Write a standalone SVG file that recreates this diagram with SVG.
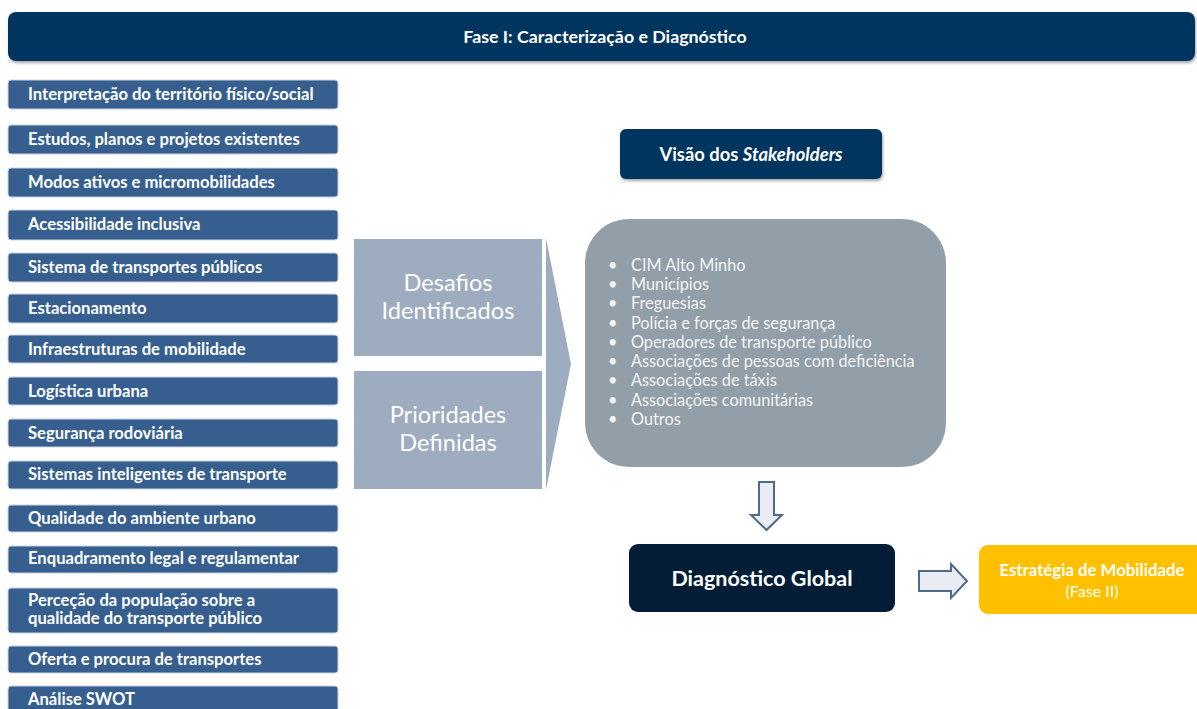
<svg xmlns="http://www.w3.org/2000/svg" width="1197" height="709" viewBox="0 0 1197 709">
<defs>
<filter id="sh" x="-5%" y="-20%" width="110%" height="150%">
<feDropShadow dx="1" dy="2" stdDeviation="1.5" flood-color="#000" flood-opacity="0.35"/>
</filter>
<style>
.lb{fill:#365f90;stroke:#c9d3df;stroke-width:1}
.lt{font-family:Lato,"Liberation Sans",sans-serif;font-weight:bold;font-size:16.6px;fill:#fff}
.mid{fill:#9dacbe}
.mt{font-family:Lato,"Liberation Sans",sans-serif;font-size:23.6px;fill:#fff;text-anchor:middle}
.bt{font-family:Lato,"Liberation Sans",sans-serif;font-size:16.3px;fill:#f4f4f4}
.ar{fill:#e9edf3;stroke:#4f6b86;stroke-width:2;stroke-linejoin:miter}
</style>
</defs>
<rect width="1197" height="709" fill="#fff"/>
<g id="title">
<rect x="8" y="12" width="1187" height="49" rx="8" fill="#003660" filter="url(#sh)"/>
<text x="605" y="43" text-anchor="middle" font-family="Lato,'Liberation Sans',sans-serif" font-weight="bold" font-size="17.8" fill="#fff">Fase I: Caracterização e Diagnóstico</text>
</g>
<g id="n1"><rect class="lb" x="8" y="80" width="330" height="29" rx="3"/><text class="lt" x="28" y="100">Interpretação do território físico/social</text></g>
<g id="n2"><rect class="lb" x="8" y="125" width="330" height="29" rx="3"/><text class="lt" x="28" y="145">Estudos, planos e projetos existentes</text></g>
<g id="n3"><rect class="lb" x="8" y="168" width="330" height="29" rx="3"/><text class="lt" x="28" y="188">Modos ativos e micromobilidades</text></g>
<g id="n4"><rect class="lb" x="8" y="210" width="330" height="30" rx="3"/><text class="lt" x="28" y="230">Acessibilidade inclusiva</text></g>
<g id="n5"><rect class="lb" x="8" y="253" width="330" height="29" rx="3"/><text class="lt" x="28" y="273">Sistema de transportes públicos</text></g>
<g id="n6"><rect class="lb" x="8" y="294" width="330" height="29" rx="3"/><text class="lt" x="28" y="314">Estacionamento</text></g>
<g id="n7"><rect class="lb" x="8" y="335" width="330" height="28" rx="3"/><text class="lt" x="28" y="355">Infraestruturas de mobilidade</text></g>
<g id="n8"><rect class="lb" x="8" y="377" width="330" height="28" rx="3"/><text class="lt" x="28" y="397">Logística urbana</text></g>
<g id="n9"><rect class="lb" x="8" y="419" width="330" height="28" rx="3"/><text class="lt" x="28" y="439">Segurança rodoviária</text></g>
<g id="n10"><rect class="lb" x="8" y="461" width="330" height="28" rx="3"/><text class="lt" x="28" y="480">Sistemas inteligentes de transporte</text></g>
<g id="n11"><rect class="lb" x="8" y="505" width="330" height="27" rx="3"/><text class="lt" x="28" y="524">Qualidade do ambiente urbano</text></g>
<g id="n12"><rect class="lb" x="8" y="546" width="330" height="27" rx="3"/><text class="lt" x="28" y="564">Enquadramento legal e regulamentar</text></g>
<g id="n13"><rect class="lb" x="8" y="588" width="330" height="45" rx="3"/><text class="lt" x="28" y="606">Perceção da população sobre a</text><text class="lt" x="28" y="624">qualidade do transporte público</text></g>
<g id="n14"><rect class="lb" x="8" y="646" width="330" height="27" rx="3"/><text class="lt" x="28" y="665">Oferta e procura de transportes</text></g>
<g id="n15"><rect class="lb" x="8" y="686" width="330" height="30" rx="3"/><text class="lt" x="28" y="705">Análise SWOT</text></g>
<g id="desafios"><rect class="mid" x="354" y="239" width="188" height="117"/><text class="mt" x="448" y="291">Desafios</text><text class="mt" x="448" y="319">Identificados</text></g>
<g id="prioridades"><rect class="mid" x="354" y="371" width="188" height="118"/><text class="mt" x="448" y="423">Prioridades</text><text class="mt" x="448" y="451">Definidas</text></g>
<g id="chevron"><polygon class="mid" points="546,238 571,364 546,490"/></g>
<g id="visao">
<rect x="620" y="129" width="262" height="50" rx="6" fill="#003660" filter="url(#sh)"/>
<text x="751" y="161" text-anchor="middle" font-family="Lato,'Liberation Sans',sans-serif" font-weight="bold" font-size="18.4" fill="#fff">Visão dos <tspan font-style="italic">Stakeholders</tspan></text>
</g>
<g id="stakeholders">
<rect x="585" y="219" width="361" height="248" rx="44" fill="#929fa9"/>
<g class="bt">
<text x="608" y="271">•</text><text x="631" y="271">CIM Alto Minho</text>
<text x="608" y="290">•</text><text x="631" y="290">Municípios</text>
<text x="608" y="309">•</text><text x="631" y="309">Freguesias</text>
<text x="608" y="329">•</text><text x="631" y="329">Polícia e forças de segurança</text>
<text x="608" y="348">•</text><text x="631" y="348">Operadores de transporte público</text>
<text x="608" y="367">•</text><text x="631" y="367">Associações de pessoas com deficiência</text>
<text x="608" y="386">•</text><text x="631" y="386">Associações de táxis</text>
<text x="608" y="406">•</text><text x="631" y="406">Associações comunitárias</text>
<text x="608" y="425">•</text><text x="631" y="425">Outros</text>
</g>
</g>
<g id="connectors">
<polygon class="ar" points="759,482 774,482 774,515 782,515 766.5,530 751,515 759,515"/>
<polygon class="ar" points="919,571 951,571 951,564 967,581 951,598 951,591 919,591"/>
</g>
<g id="diagnostico">
<rect x="629" y="544" width="266" height="68" rx="9" fill="#021d35"/>
<text x="762" y="586" text-anchor="middle" font-family="Lato,'Liberation Sans',sans-serif" font-weight="bold" font-size="21.5" fill="#fff">Diagnóstico Global</text>
</g>
<g id="estrategia">
<rect x="979" y="545" width="230" height="69" rx="9" fill="#ffc000"/>
<text x="1092" y="576" text-anchor="middle" font-family="Lato,'Liberation Sans',sans-serif" font-weight="bold" font-size="16.8" fill="#fff">Estratégia de Mobilidade</text>
<text x="1092" y="597" text-anchor="middle" font-family="Lato,'Liberation Sans',sans-serif" font-size="16" fill="#fff">(Fase II)</text>
</g>
</svg>
